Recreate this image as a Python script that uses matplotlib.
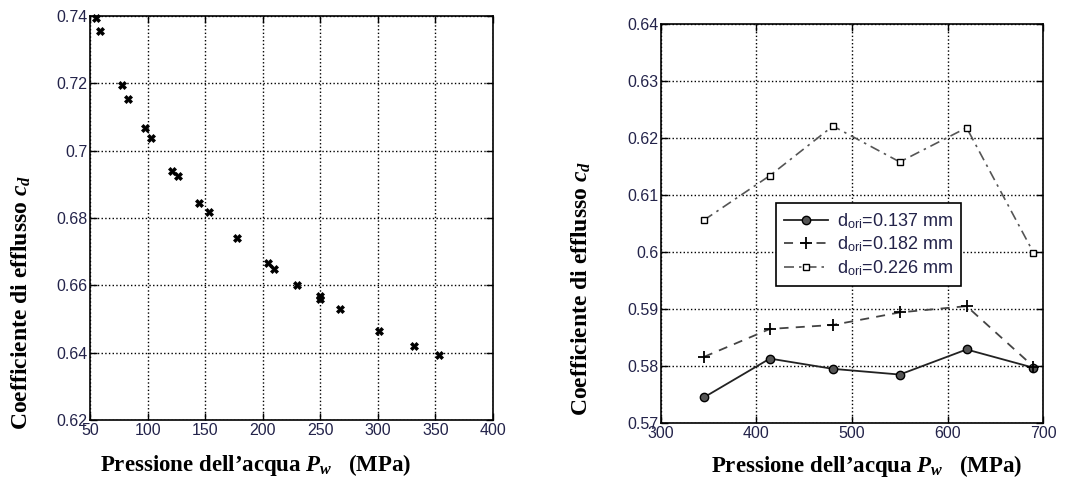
import matplotlib
matplotlib.use("Agg")
import matplotlib.pyplot as plt
from matplotlib.ticker import FuncFormatter

plt.rcParams['mathtext.fontset'] = 'custom'
plt.rcParams['mathtext.rm'] = 'Liberation Serif:bold'
plt.rcParams['mathtext.it'] = 'Liberation Serif:italic:bold'
plt.rcParams['mathtext.bf'] = 'Liberation Serif:bold'

# ---- Left chart data ----
p_left = [55, 58.5, 77.5, 83, 97.5, 103, 121.5, 126.5, 144.5, 153.5, 178, 205, 210,
          230, 249.5, 250, 267, 301, 331, 353]
cd_left = [0.7394, 0.7354, 0.7195, 0.7153, 0.7067, 0.7038, 0.6941, 0.6925, 0.6846,
           0.6817, 0.6740, 0.6666, 0.6649, 0.6602, 0.6568, 0.6560, 0.6531, 0.6464,
           0.6419, 0.6392]
xticks_left = [50, 100, 150, 200, 250, 300, 350, 400]
yticks_left = [0.62, 0.64, 0.66, 0.68, 0.70, 0.72, 0.74]

# ---- Right chart data ----
p_right = [345, 414, 480, 550, 620, 690]
cd_0137 = [0.5745, 0.5813, 0.5795, 0.5785, 0.5829, 0.5797]
cd_0182 = [0.5816, 0.5865, 0.5872, 0.5894, 0.5905, 0.5799]
cd_0226 = [0.6056, 0.6134, 0.6221, 0.6158, 0.6218, 0.5999]
labels_right = [r'd$_{\mathregular{ori}}$=0.137 mm',
                r'd$_{\mathregular{ori}}$=0.182 mm',
                r'd$_{\mathregular{ori}}$=0.226 mm']
xticks_right = [300, 400, 500, 600, 700]
yticks_right = [0.57, 0.58, 0.59, 0.60, 0.61, 0.62, 0.63, 0.64]

ylabel_text = r'Coefficiente di efflusso $\mathit{c_d}$'
xlabel_text = r'Pressione dell’acqua $\mathit{P_w}$   (MPa)'

W, H = 1086, 479
fig = plt.figure(figsize=(W / 100, H / 100), dpi=100)

def rect(l, t, r, b):
    return [l / W, 1 - b / H, (r - l) / W, (b - t) / H]

ax1 = fig.add_axes(rect(90, 16, 493, 420))
ax2 = fig.add_axes(rect(661, 24, 1043, 423))

tick_color = '#23234a'
gfmt = FuncFormatter(lambda v, pos: ('%g' % round(v, 4)))

def style(ax):
    ax.grid(True, linestyle=':', color='black', linewidth=1.0)
    ax.set_axisbelow(True)
    ax.tick_params(direction='in', length=5, width=1.0, top=True, right=True,
                   labelsize=11.5, labelcolor=tick_color, pad=2)
    for lab in ax.get_xticklabels() + ax.get_yticklabels():
        lab.set_family('Liberation Sans')
    for s in ax.spines.values():
        s.set_linewidth(1.2)
    ax.yaxis.set_major_formatter(gfmt)
    ax.xaxis.set_major_formatter(gfmt)

# Left
ax1.plot(p_left, cd_left, linestyle='none', marker='X', markersize=5.5,
         color='black', markeredgewidth=0.5, clip_on=False, zorder=3)
ax1.set_xlim(50, 400)
ax1.set_ylim(0.62, 0.74)
ax1.set_xticks(xticks_left)
ax1.set_yticks(yticks_left)
style(ax1)
ax1.set_ylabel(ylabel_text, family='Liberation Serif', fontweight='bold', fontsize=17)
ax1.yaxis.set_label_coords(-0.141, 0.29)
ax1.set_xlabel(xlabel_text, family='Liberation Serif', fontweight='bold', fontsize=16.5)
ax1.xaxis.set_label_coords(0.412, -0.078)

# Right
ax2.plot(p_right, cd_0137, linestyle='-', color='#222222', linewidth=1.3,
         marker='o', markersize=6, markerfacecolor='#555555', markeredgecolor='black',
         label=labels_right[0], clip_on=False, zorder=3)
ax2.plot(p_right, cd_0182, linestyle=(0, (5, 4)), color='#444444', linewidth=1.3,
         marker='+', markersize=8, markeredgecolor='black', markeredgewidth=1.3,
         label=labels_right[1], clip_on=False, zorder=3)
ax2.plot(p_right, cd_0226, linestyle=(0, (6, 3, 1.5, 3)), color='#555555', linewidth=1.2,
         marker='s', markersize=5, markerfacecolor='white', markeredgecolor='black',
         label=labels_right[2], clip_on=False, zorder=3)
ax2.set_xlim(300, 700)
ax2.set_ylim(0.57, 0.64)
ax2.set_xticks(xticks_right)
ax2.set_yticks(yticks_right)
style(ax2)
ax2.set_ylabel(ylabel_text, family='Liberation Serif', fontweight='bold', fontsize=17)
ax2.yaxis.set_label_coords(-0.178, 0.338)
ax2.set_xlabel(xlabel_text, family='Liberation Serif', fontweight='bold', fontsize=16.5)
ax2.xaxis.set_label_coords(0.539, -0.074)

leg = ax2.legend(loc='upper left', bbox_to_anchor=(0.302, 0.551),
                 prop={'family': 'Liberation Sans', 'size': 13},
                 frameon=True, fancybox=False, edgecolor='black', framealpha=1,
                 handlelength=2.4, handletextpad=0.5, borderpad=0.45,
                 labelspacing=0.2, borderaxespad=0)
leg.get_frame().set_linewidth(1.2)
for t in leg.get_texts():
    t.set_color(tick_color)

fig.savefig('out.png', dpi=100, facecolor='white')
